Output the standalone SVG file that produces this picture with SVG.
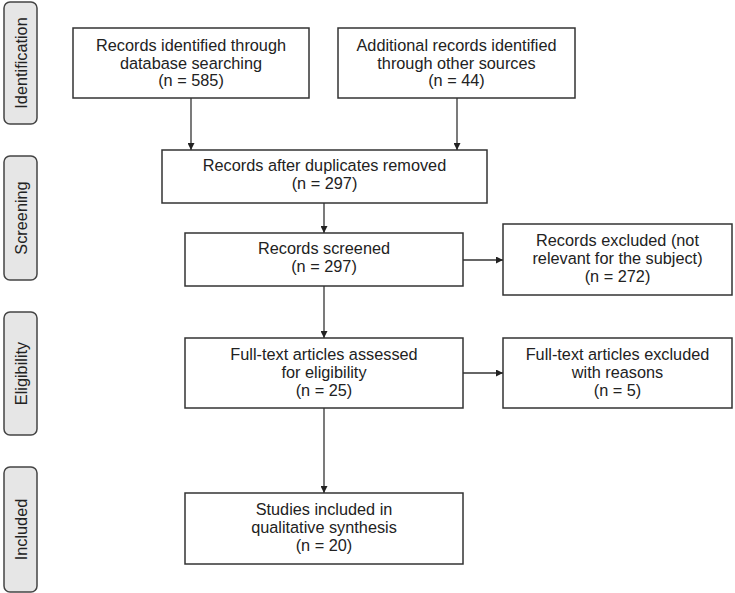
<svg xmlns="http://www.w3.org/2000/svg" width="735" height="593" viewBox="0 0 735 593">
<defs>
<style>
.box{fill:#fff;stroke:#333;stroke-width:1.5}
.side{fill:#e6e6e6;stroke:#444;stroke-width:1.5}
text{font-family:"Liberation Sans",Arial,sans-serif;font-size:16.3px;fill:#222;text-anchor:middle}
.edge{stroke:#333;stroke-width:1.3;fill:none;marker-end:url(#ah)}
</style>
<marker id="ah" viewBox="0 0 10 10" refX="10" refY="5" markerWidth="7" markerHeight="7" markerUnits="userSpaceOnUse" orient="auto">
<path d="M0,0 L10,5 L0,10 z" fill="#222"/>
</marker>
</defs>
<g id="stage-identification"><rect class="side" x="4" y="2" width="33" height="122" rx="6"/><text transform="translate(26.5,63) rotate(-90)">Identification</text></g>
<g id="stage-screening"><rect class="side" x="4" y="156" width="33" height="124" rx="6"/><text transform="translate(26.5,218) rotate(-90)">Screening</text></g>
<g id="stage-eligibility"><rect class="side" x="4" y="312" width="33" height="123" rx="6"/><text transform="translate(26.5,373.5) rotate(-90)">Eligibility</text></g>
<g id="stage-included"><rect class="side" x="4" y="467" width="33" height="125" rx="6"/><text transform="translate(26.5,529.5) rotate(-90)">Included</text></g>

<g id="n1"><rect class="box" x="73" y="28" width="236" height="70"/><text x="191" y="51">Records identified through</text><text x="191" y="68.5">database searching</text><text x="191" y="86">(n = 585)</text></g>
<g id="n2"><rect class="box" x="338" y="28" width="237" height="70"/><text x="456.5" y="51">Additional records identified</text><text x="456.5" y="68.5">through other sources</text><text x="456.5" y="86">(n = 44)</text></g>
<g id="n3"><rect class="box" x="162" y="150" width="325" height="53"/><text x="324.5" y="171">Records after duplicates removed</text><text x="324.5" y="189">(n = 297)</text></g>
<g id="n4"><rect class="box" x="185" y="233" width="278" height="53"/><text x="324" y="254">Records screened</text><text x="324" y="272">(n = 297)</text></g>
<g id="n5"><rect class="box" x="503" y="224" width="229" height="71"/><text x="617.5" y="246">Records excluded (not</text><text x="617.5" y="264">relevant for the subject)</text><text x="617.5" y="282">(n = 272)</text></g>
<g id="n6"><rect class="box" x="185" y="338" width="278" height="70"/><text x="324" y="360">Full-text articles assessed</text><text x="324" y="378">for eligibility</text><text x="324" y="396">(n = 25)</text></g>
<g id="n7"><rect class="box" x="503" y="338" width="229" height="70"/><text x="617.5" y="360">Full-text articles excluded</text><text x="617.5" y="378">with reasons</text><text x="617.5" y="396">(n = 5)</text></g>
<g id="n8"><rect class="box" x="185" y="493" width="278" height="71"/><text x="324" y="515">Studies included in</text><text x="324" y="533">qualitative synthesis</text><text x="324" y="551">(n = 20)</text></g>

<g id="connectors">
<line class="edge" x1="191" y1="98" x2="191" y2="150"/>
<line class="edge" x1="457" y1="98" x2="457" y2="150"/>
<line class="edge" x1="324" y1="203" x2="324" y2="233"/>
<line class="edge" x1="463" y1="260" x2="503" y2="260"/>
<line class="edge" x1="324" y1="286" x2="324" y2="338"/>
<line class="edge" x1="463" y1="373" x2="503" y2="373"/>
<line class="edge" x1="324" y1="408" x2="324" y2="493"/>
</g>
</svg>
